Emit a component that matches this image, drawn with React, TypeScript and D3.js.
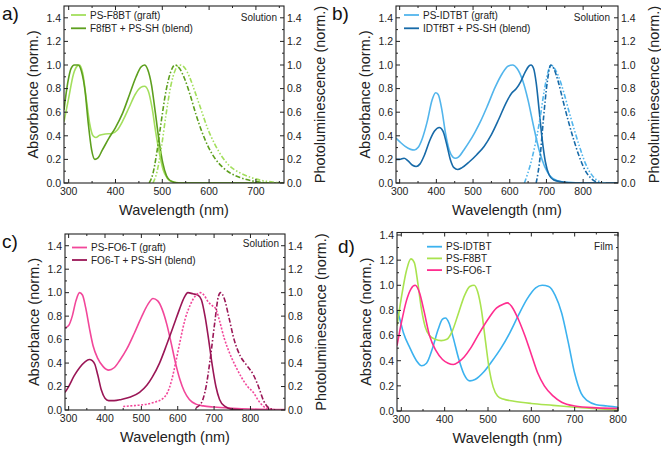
import React from "react";
import * as d3 from "d3";

type Pt = [number, number];

// ---------- tick values ----------
const yTicks = [0, 0.2, 0.4, 0.6, 0.8, 1.0, 1.2, 1.4];
const xTicks = [300, 400, 500, 600, 700, 800];

// ---------- panel a (F8BT, solution) ----------
const aGraftAbs: Pt[] = [[290,0.52],[300,0.72],[310,0.92],[318,0.99],[323,1.0],[330,0.93],[338,0.7],[345,0.5],[352,0.4],[358,0.385],[366,0.405],[378,0.415],[392,0.42],[404,0.45],[416,0.53],[429,0.64],[442,0.75],[454,0.81],[462,0.82],[470,0.78],[478,0.64],[486,0.43],[494,0.25],[502,0.11],[510,0.045],[520,0.012],[540,0],[760,0]];
const aBlendAbs: Pt[] = [[290,0.62],[298,0.85],[305,0.97],[312,1.0],[320,1.0],[327,0.95],[335,0.78],[342,0.5],[349,0.28],[356,0.2],[362,0.21],[372,0.28],[386,0.38],[400,0.47],[415,0.59],[430,0.75],[444,0.9],[454,0.98],[462,1.0],[469,0.96],[477,0.83],[485,0.6],[493,0.36],[501,0.17],[509,0.06],[517,0.02],[535,0],[760,0]];
const aBlendPL: Pt[] = [[472,0],[480,0.08],[488,0.25],[497,0.5],[507,0.76],[517,0.93],[527,1.0],[537,0.97],[547,0.89],[560,0.74],[572,0.58],[585,0.43],[599,0.3],[614,0.2],[630,0.13],[647,0.08],[667,0.045],[692,0.018],[725,0.0]];
const aGraftPL: Pt[] = [[480,0],[489,0.1],[498,0.3],[508,0.58],[518,0.82],[528,0.96],[537,1.0],[547,0.98],[558,0.9],[570,0.77],[583,0.62],[597,0.46],[612,0.33],[628,0.22],[645,0.14],[664,0.09],[687,0.05],[712,0.022],[740,0.006],[757,0]];

// ---------- panel b (IDTBT, solution) ----------
const bGraftAbs: Pt[] = [[290,0.38],[300,0.35],[315,0.31],[330,0.285],[340,0.28],[350,0.3],[362,0.38],[375,0.52],[388,0.7],[398,0.765],[405,0.75],[415,0.62],[425,0.42],[435,0.28],[445,0.22],[452,0.21],[460,0.22],[475,0.28],[490,0.35],[505,0.43],[520,0.52],[540,0.66],[560,0.81],[580,0.93],[595,0.99],[608,1.0],[620,0.97],[635,0.87],[650,0.7],[665,0.48],[680,0.28],[695,0.14],[710,0.06],[730,0.02],[760,0.005],[800,0.0],[895,0]];
const bBlendAbs: Pt[] = [[290,0.2],[300,0.2],[312,0.21],[322,0.19],[335,0.15],[345,0.14],[355,0.16],[368,0.24],[382,0.36],[395,0.44],[408,0.47],[418,0.44],[428,0.33],[438,0.2],[448,0.13],[458,0.115],[470,0.13],[490,0.18],[510,0.24],[530,0.31],[550,0.41],[570,0.54],[590,0.68],[605,0.76],[618,0.8],[630,0.86],[642,0.94],[652,0.99],[658,1.0],[665,0.97],[672,0.85],[680,0.62],[688,0.38],[697,0.18],[707,0.07],[720,0.025],[740,0.01],[780,0.0],[895,0]];
const bBlendPL: Pt[] = [[672,0],[682,0.2],[692,0.55],[702,0.85],[712,1.0],[720,0.97],[732,0.86],[745,0.7],[760,0.52],[775,0.36],[790,0.22],[805,0.11],[820,0.045],[835,0.01],[845,0]];
const bGraftPL: Pt[] = [[640,0],[660,0.2],[680,0.5],[695,0.8],[705,0.95],[712,1.0],[720,0.98],[732,0.91],[747,0.77],[762,0.6],[777,0.44],[792,0.29],[807,0.16],[822,0.075],[837,0.025],[852,0.005],[862,0]];

// ---------- panel c (FO6-T, solution) ----------
const cGraftAbs: Pt[] = [[290,0.7],[300,0.72],[310,0.8],[320,0.93],[330,1.0],[338,0.98],[347,0.87],[357,0.7],[367,0.55],[380,0.44],[395,0.37],[410,0.34],[425,0.36],[440,0.42],[460,0.52],[480,0.65],[500,0.79],[518,0.9],[532,0.95],[545,0.93],[557,0.86],[570,0.73],[582,0.57],[594,0.4],[606,0.26],[618,0.16],[632,0.09],[650,0.05],[670,0.035],[700,0.025],[750,0.015],[800,0.008],[895,0.003]];
const cBlendAbs: Pt[] = [[290,0.15],[300,0.2],[315,0.29],[330,0.36],[345,0.41],[357,0.43],[365,0.42],[372,0.39],[380,0.3],[390,0.17],[400,0.1],[410,0.08],[425,0.08],[445,0.09],[470,0.11],[495,0.15],[515,0.21],[530,0.28],[550,0.4],[570,0.56],[590,0.73],[605,0.86],[618,0.96],[628,1.0],[642,0.99],[655,0.98],[665,0.94],[675,0.8],[685,0.6],[695,0.38],[705,0.2],[715,0.09],[730,0.03],[750,0.005],[780,0]];
const cGraftPL: Pt[] = [[450,0.03],[470,0.035],[490,0.04],[515,0.05],[540,0.07],[560,0.1],[572,0.15],[583,0.25],[594,0.4],[606,0.58],[620,0.77],[635,0.9],[648,0.97],[662,1.0],[672,0.98],[684,0.92],[695,0.89],[705,0.86],[715,0.76],[728,0.61],[742,0.49],[758,0.38],[775,0.28],[792,0.2],[808,0.15],[822,0.08],[836,0.03],[852,0.01],[880,0]];
const cBlendPL: Pt[] = [[650,0.02],[665,0.06],[678,0.2],[690,0.45],[702,0.75],[712,0.97],[718,1.0],[728,0.95],[740,0.8],[755,0.6],[772,0.46],[790,0.38],[808,0.3],[822,0.2],[836,0.08],[850,0.02],[868,0]];

// ---------- panel d (films) ----------
const dIDTBT: Pt[] = [[290,0.8],[295,0.75],[305,0.62],[320,0.5],[335,0.4],[347,0.36],[358,0.38],[372,0.5],[385,0.65],[395,0.73],[402,0.74],[410,0.7],[420,0.58],[432,0.42],[445,0.29],[458,0.24],[470,0.25],[490,0.31],[510,0.4],[530,0.5],[550,0.62],[570,0.76],[590,0.89],[610,0.98],[625,1.0],[640,0.99],[655,0.92],[670,0.78],[685,0.55],[700,0.3],[715,0.14],[730,0.08],[750,0.05],[775,0.04],[800,0.03]];
const dF8BT: Pt[] = [[290,0.68],[300,0.9],[312,1.12],[322,1.21],[330,1.18],[338,1.02],[346,0.82],[355,0.67],[365,0.6],[378,0.57],[392,0.56],[405,0.57],[418,0.64],[432,0.78],[446,0.92],[458,0.99],[468,1.0],[476,0.95],[485,0.8],[494,0.56],[503,0.33],[512,0.19],[522,0.12],[535,0.095],[560,0.078],[600,0.06],[650,0.045],[700,0.03],[750,0.018],[800,0.008]];
const dFO6T: Pt[] = [[290,0.52],[300,0.7],[312,0.88],[322,0.97],[332,1.0],[342,0.94],[352,0.8],[365,0.6],[380,0.48],[395,0.41],[408,0.38],[420,0.37],[432,0.39],[445,0.43],[460,0.5],[480,0.62],[500,0.73],[520,0.82],[535,0.85],[545,0.86],[555,0.83],[570,0.73],[585,0.6],[600,0.45],[615,0.3],[630,0.2],[650,0.12],[670,0.07],[700,0.04],[750,0.025],[800,0.02]];

const FONT = "'Liberation Sans', Arial, Helvetica, sans-serif";
const AXIS = "#222";

type Series = { data: Pt[]; color: string; dash?: string; label?: string };

type PanelProps = {
  id: string;
  x0: number; x1: number; yTop: number; yBot: number;
  xDomain: [number, number];
  yDomain: [number, number];
  rightAxis: boolean;
  series: Series[];
  legendX: number; legendY: number; legendStep: number;
  note: string; noteX: number; noteY: number;
  letter: string; letterX: number; letterY: number;
};

function Panel(p: PanelProps) {
  const x = d3.scaleLinear().domain(p.xDomain).range([p.x0, p.x1]);
  const y = d3.scaleLinear().domain(p.yDomain).range([p.yBot, p.yTop]);
  const line = d3.line<Pt>().x(d => x(d[0])).y(d => y(d[1])).curve(d3.curveMonotoneX);
  const majX = xTicks.filter(t => t >= p.xDomain[0] && t <= p.xDomain[1]);
  const minX = d3.range(250, 950, 100).filter(t => t > p.xDomain[0] && t < p.xDomain[1]);
  const majY = yTicks.filter(t => t <= p.yDomain[1] + 1e-9);
  const minY = d3.range(0.1, 1.5, 0.2).filter(t => t < p.yDomain[1]);
  const L = 4, l = 2;
  const legendItems = p.series.filter(s => s.label);
  const cx = (p.x0 + p.x1) / 2, cy = (p.yTop + p.yBot) / 2;
  return (
    <g fontFamily={FONT}>
      <defs>
        <clipPath id={`clip-${p.id}`}>
          <rect x={p.x0} y={p.yTop} width={p.x1 - p.x0} height={p.yBot - p.yTop} />
        </clipPath>
      </defs>
      <g clipPath={`url(#clip-${p.id})`}>
        {p.series.map((s, i) => (
          <path key={i} d={line(s.data) || ""} fill="none" stroke={s.color} strokeWidth={1.6} strokeDasharray={s.dash} strokeLinejoin="round" />
        ))}
      </g>
      <rect x={p.x0} y={p.yTop} width={p.x1 - p.x0} height={p.yBot - p.yTop} fill="none" stroke={AXIS} strokeWidth={1.1} />
      {majX.map(t => (
        <g key={`mx${t}`}>
          <line x1={x(t)} x2={x(t)} y1={p.yBot} y2={p.yBot - L} stroke={AXIS} />
          <line x1={x(t)} x2={x(t)} y1={p.yTop} y2={p.yTop + L} stroke={AXIS} />
          <text x={x(t)} y={p.yBot + 11.5} fontSize={10.5} textAnchor="middle" fill="#222">{t}</text>
        </g>
      ))}
      {minX.map(t => (
        <g key={`nx${t}`}>
          <line x1={x(t)} x2={x(t)} y1={p.yBot} y2={p.yBot - l} stroke={AXIS} />
          <line x1={x(t)} x2={x(t)} y1={p.yTop} y2={p.yTop + l} stroke={AXIS} />
        </g>
      ))}
      {majY.map(t => (
        <g key={`my${t}`}>
          <line x1={p.x0} x2={p.x0 + L} y1={y(t)} y2={y(t)} stroke={AXIS} />
          <line x1={p.x1} x2={p.x1 - L} y1={y(t)} y2={y(t)} stroke={AXIS} />
          <text x={p.x0 - 3} y={y(t) + 3.8} fontSize={10.5} textAnchor="end" fill="#222">{t.toFixed(1)}</text>
          {p.rightAxis && (
            <text x={p.x1 + 3} y={y(t) + 3.8} fontSize={10.5} textAnchor="start" fill="#222">{t.toFixed(1)}</text>
          )}
        </g>
      ))}
      {minY.map(t => (
        <g key={`ny${t}`}>
          <line x1={p.x0} x2={p.x0 + l} y1={y(t)} y2={y(t)} stroke={AXIS} />
          <line x1={p.x1} x2={p.x1 - l} y1={y(t)} y2={y(t)} stroke={AXIS} />
        </g>
      ))}
      <text x={cx} y={p.yBot + 32} fontSize={14.5} textAnchor="middle" fill="#222">Wavelength (nm)</text>
      <text transform={`translate(${p.x0 - 26},${cy}) rotate(-90)`} fontSize={14.5} textAnchor="middle" fill="#222">Absorbance (norm.)</text>
      {p.rightAxis && (
        <text transform={`translate(${p.x1 + 41},${cy}) rotate(-90)`} fontSize={14.5} textAnchor="middle" fill="#222">Photoluminescence (norm.)</text>
      )}
      {legendItems.map((s, i) => (
        <g key={`lg${i}`}>
          <line x1={p.legendX} x2={p.legendX + 15} y1={p.legendY + i * p.legendStep} y2={p.legendY + i * p.legendStep} stroke={s.color} strokeWidth={1.8} />
          <text x={p.legendX + 19} y={p.legendY + i * p.legendStep + 3.5} fontSize={10} fill="#222">{s.label}</text>
        </g>
      ))}
      <text x={p.noteX} y={p.noteY + 3.5} fontSize={10} textAnchor="end" fill="#222">{p.note}</text>
      <text x={p.letterX} y={p.letterY} fontSize={19} fill="#111">{p.letter}</text>
    </g>
  );
}

export default function App() {
  const lightGreen = "#a3df5d", darkGreen = "#5d9f1e";
  const lightBlue = "#52b5ec", darkBlue = "#176aa8";
  const pink = "#f2479a", maroon = "#9a1656";
  const dBlue = "#3cb2ef", dGreen = "#a9e34f", dPink = "#ff2d8f";
  const dd = "5,2,1.5,2";
  const ddd = "5,2,1.5,2,1.5,2";
  return (
    <svg width={661} height={451} style={{ display: "block", position: "absolute", left: 0, top: 0, background: "#fff" }}>
      <Panel id="a" x0={64} x1={284} yTop={6} yBot={183} xDomain={[290, 760]} yDomain={[0, 1.5]} rightAxis
        series={[
          { data: aGraftAbs, color: lightGreen, label: "PS-F8BT (graft)" },
          { data: aBlendAbs, color: darkGreen, label: "F8fBT + PS-SH (blend)" },
          { data: aGraftPL, color: lightGreen, dash: ddd },
          { data: aBlendPL, color: darkGreen, dash: dd },
        ]}
        legendX={71} legendY={15} legendStep={13.3}
        note="Solution" noteX={277} noteY={17}
        letter="a)" letterX={2} letterY={20} />
      <Panel id="b" x0={396} x1={618} yTop={6} yBot={183} xDomain={[290, 895]} yDomain={[0, 1.5]} rightAxis
        series={[
          { data: bGraftAbs, color: lightBlue, label: "PS-IDTBT (graft)" },
          { data: bBlendAbs, color: darkBlue, label: "IDTfBT + PS-SH (blend)" },
          { data: bGraftPL, color: lightBlue, dash: ddd },
          { data: bBlendPL, color: darkBlue, dash: dd },
        ]}
        legendX={404} legendY={15} legendStep={13.3}
        note="Solution" noteX={610} noteY={17}
        letter="b)" letterX={332} letterY={20} />
      <Panel id="c" x0={65} x1={285} yTop={234} yBot={410} xDomain={[290, 895]} yDomain={[0, 1.5]} rightAxis
        series={[
          { data: cGraftAbs, color: pink, label: "PS-FO6-T (graft)" },
          { data: cBlendAbs, color: maroon, label: "FO6-T + PS-SH (blend)" },
          { data: cGraftPL, color: pink, dash: "2,1.6" },
          { data: cBlendPL, color: maroon, dash: dd },
        ]}
        legendX={72} legendY={247.5} legendStep={12.5}
        note="Solution" noteX={279} noteY={243}
        letter="c)" letterX={2} letterY={248} />
      <Panel id="d" x0={397} x1={618} yTop={232.5} yBot={411} xDomain={[290, 800]} yDomain={[0, 1.42]} rightAxis={false}
        series={[
          { data: dIDTBT, color: dBlue, label: "PS-IDTBT" },
          { data: dF8BT, color: dGreen, label: "PS-F8BT" },
          { data: dFO6T, color: dPink, label: "PS-FO6-T" },
        ]}
        legendX={427} legendY={246.7} legendStep={11.7}
        note="Film" noteX={613} noteY={246.7}
        letter="d)" letterX={338} letterY={253} />
    </svg>
  );
}
